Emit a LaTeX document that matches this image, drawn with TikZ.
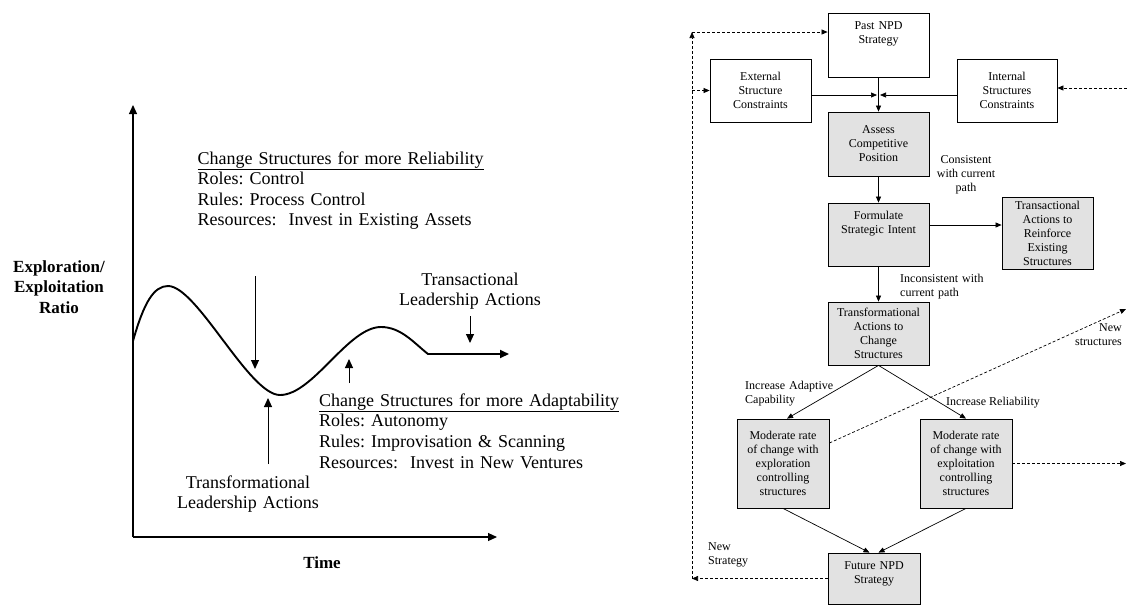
\documentclass[tikz,border=0pt]{standalone}
\usepackage{fontspec}
\setmainfont{Liberation Serif}
\usetikzlibrary{arrows.meta}
\definecolor{boxgray}{gray}{0.885}
\frenchspacing
\begin{document}
\begin{tikzpicture}[x=1pt,y=-1pt,
  bigtip/.style={-{Triangle[length=9pt,width=8pt]}},
  smalltip/.style={-{Triangle[length=6pt,width=5pt]}},
  axis/.style={line width=1.2pt, bigtip},
  pointer/.style={line width=1pt, bigtip},
  flow/.style={line width=0.7pt, smalltip},
  dashflow/.style={line width=0.7pt, dash pattern=on 3pt off 2pt, smalltip},
  box/.style={draw, line width=0.8pt, inner sep=0pt, align=center,
    font=\fontsize{12}{14}\selectfont},
  shaded/.style={box, fill=boxgray},
  boxtext/.style={anchor=base, inner sep=0pt, text width=100pt, align=center,
    font=\fontsize{12}{14.5}\selectfont},
  note/.style={inner sep=0pt, font=\fontsize{12}{14}\selectfont},
  bigtext/.style={inner sep=0pt, font=\fontsize{18}{20.5}\selectfont},
  axislabel/.style={inner sep=0pt, font=\fontsize{17}{20.5}\selectfont\bfseries}
]
\useasboundingbox (0,0) rectangle (1127,606);

% ---------------- left: exploration/exploitation over time ----------------
\coordinate (origin) at (133,537);
\coordinate (ytop) at (133,105);
\coordinate (xend) at (497,537);
\draw[axis] (origin) -- (ytop);
\draw[axis] (origin) -- (xend);

\coordinate (c0) at (133,341);
\coordinate (c1) at (168,286);
\coordinate (c2) at (280,395);
\coordinate (c3) at (381,327);
\coordinate (c4) at (428,354);
\coordinate (c5) at (509,354);
\draw[line width=1.9pt, bigtip, line join=round]
  (c0) .. controls (144,302) and (154,286) .. (c1)
       .. controls (197,286) and (249,395) .. (c2)
       .. controls (313,395) and (348,327) .. (c3)
       .. controls (401,327) and (414,343) .. (c4) -- (c5);

\coordinate (d1s) at (255,276); \coordinate (d1e) at (255,369);
\draw[pointer] (d1s) -- (d1e);
\coordinate (u1s) at (349,383); \coordinate (u1e) at (349,359);
\draw[pointer] (u1s) -- (u1e);
\coordinate (d2s) at (470,316); \coordinate (d2e) at (470,343);
\draw[pointer] (d2s) -- (d2e);
\coordinate (u2s) at (268,464); \coordinate (u2e) at (268,398);
\draw[pointer] (u2s) -- (u2e);

\node[bigtext, anchor=base west, text width=330pt, align=left,
      font=\fontsize{18}{20.5}\selectfont] (rel) at (197.5,164)
  {\underline{Change Structures for more Reliability}\\
   Roles: Control\\
   Rules: Process Control\\
   Resources:\ \ Invest in Existing Assets};
\node[bigtext, anchor=base west, text width=330pt, align=left,
      font=\fontsize{18}{20.8}\selectfont] (ada) at (319,406)
  {\underline{Change Structures for more Adaptability}\\
   Roles: Autonomy\\
   Rules: Improvisation \& Scanning\\
   Resources:\ \ Invest in New Ventures};
\node[bigtext, anchor=base, text width=200pt, align=center] (tra) at (470,285)
  {Transactional\\Leadership Actions};
\node[bigtext, anchor=base, text width=200pt, align=center] (tfa) at (248,488)
  {Transformational\\Leadership Actions};
\node[axislabel, anchor=base, text width=120pt, align=center] (ylab) at (59,272)
  {Exploration/\\Exploitation\\Ratio};
\node[axislabel, anchor=base] (xlab) at (322,568) {Time};

% ---------------- right: NPD strategy process ----------------
\node[box, minimum width=101pt, minimum height=64pt] (past) at (878.5,45) {};
\node[boxtext] (pasttext) at (878.5,29) {Past NPD\\Strategy};
\node[box, minimum width=101pt, minimum height=63pt] (ext) at (760.5,90.5)
  {External\\Structure\\Constraints};
\node[box, minimum width=100pt, minimum height=63pt] (int) at (1007,90.5)
  {Internal\\Structures\\Constraints};
\node[shaded, minimum width=101pt, minimum height=64pt] (assess) at (878.5,144)
  {Assess\\Competitive\\Position};
\node[shaded, minimum width=101pt, minimum height=63pt] (form) at (878.5,234.5) {};
\node[boxtext] (formtext) at (878.5,219) {Formulate\\Strategic Intent};
\node[shaded, minimum width=91pt, minimum height=72pt] (trans) at (1047.5,233)
  {Transactional\\Actions to\\Reinforce\\Existing\\Structures};
\node[shaded, minimum width=101pt, minimum height=63pt] (tform) at (878.5,333.5)
  {Transformational\\Actions to\\Change\\Structures};
\node[shaded, minimum width=92pt, minimum height=89pt] (modl) at (783,463.5)
  {Moderate rate\\of change with\\exploration\\controlling\\structures};
\node[shaded, minimum width=92pt, minimum height=89pt] (modr) at (966,463.5)
  {Moderate rate\\of change with\\exploitation\\controlling\\structures};
\node[shaded, minimum width=92pt, minimum height=51pt] (fut) at (874,578.5) {};
\node[boxtext] (futtext) at (874,569) {Future NPD\\Strategy};

% solid flow
\coordinate (jn) at (878.5,95);
\draw[flow] (past.south) -- (assess.north);
\draw[flow] (ext.east |- jn) -- ([xshift=-1.5pt]jn);
\draw[flow] (int.west |- jn) -- ([xshift=1.5pt]jn);
\draw[flow] (assess.south) -- (form.north);
\draw[flow] ([yshift=9.5pt]form.east) coordinate (fe) -- (fe -| trans.west);
\draw[flow] (form.south) -- (tform.north);
\draw[flow] (tform.south) -- ([xshift=4pt]modl.north);
\draw[flow] (tform.south) -- (modr.north);
\draw[flow] (modl.south) -- ([xshift=-4.5pt]fut.north);
\draw[flow] (modr.south) -- ([xshift=4.5pt]fut.north);

% dashed feedback
\coordinate (bl) at (692,578.5);
\coordinate (tl) at (692,32);
\coordinate (re) at (1127,88);
\coordinate (ns) at (1126,309);
\coordinate (rr) at (1126,463.5);
\draw[dashflow] (fut.west) -- (bl);
\draw[dashflow] (bl) -- (tl);
\draw[dashflow] (tl) -- (tl -| past.west);
\draw[dashflow] (ext.west -| tl) -- (ext.west);
\draw[dashflow] (re) -- (re -| int.east);
\draw[dashflow] ([yshift=20.5pt]modl.east) -- (ns);
\draw[dashflow] (modr.east) -- (rr);

% labels on the flow
\node[note, anchor=base, align=center] (lcons) at (966,191)
  {Consistent\\with current\\path};
\node[note, anchor=base west, text width=100pt, align=left] (lincons) at (900,282)
  {Inconsistent with\\current path};
\node[note, anchor=base west, text width=100pt, align=left] (ladapt) at (745,389)
  {Increase Adaptive\\Capability};
\node[note, anchor=base west] (lrel) at (946,405) {Increase Reliability};
\node[note, anchor=base east, text width=60pt, align=right] (lnews) at (1122,331)
  {New\\structures\hspace*{10pt}};
\node[note, anchor=base west, text width=60pt, align=left] (lnewst) at (708,550)
  {New\\Strategy};
\end{tikzpicture}
\end{document}
